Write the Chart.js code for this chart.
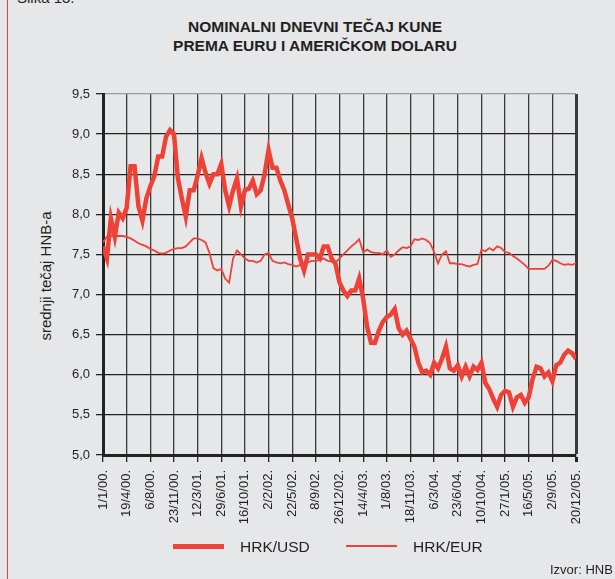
<!DOCTYPE html>
<html>
<head>
<meta charset="utf-8">
<script src="https://cdn.jsdelivr.net/npm/chart.js@4/dist/chart.umd.min.js"></script>
<style>
  body { margin: 0; background: #e6e7e9; font-family: "Liberation Sans", Arial, sans-serif; color: #231f20; }
  #wrap { position: relative; width: 615px; height: 579px; overflow: hidden; }
  #chart { position: absolute; left: 0; top: 0; }
  .abs { position: absolute; white-space: nowrap; }
  #frame { position: absolute; left: 7px; top: 0; width: 1px; height: 579px; background: #e8463d; }
  #title { left: 0; width: 630px; top: 18px; text-align: center; font-weight: bold; font-size: 15.5px; line-height: 18.5px; }
  #ylabel { left: 45px; top: 276px; }
  #ylabel span { display: block; transform: translate(-50%, -50%) rotate(-90deg); font-size: 15px; }
  .swatch { position: absolute; background: #ef4136; }
  .legtxt { font-size: 15.5px; top: 538px; }
</style>
</head>
<body>
<div id="wrap">
  <div id="frame"></div>
  <div class="abs" style="left:17px; top:-11px; font-size:15px;">Slika 13.</div>
  <div class="abs" id="title">NOMINALNI DNEVNI TEČAJ KUNE<br>PREMA EURU I AMERIČKOM DOLARU</div>
  <div class="abs" id="ylabel"><span>srednji tečaj HNB-a</span></div>
  <canvas id="chart" width="615" height="579"></canvas>
  <div class="swatch" style="left:173px; top:544px; width:51px; height:5px;"></div>
  <div class="abs legtxt" style="left:240px;">HRK/USD</div>
  <div class="swatch" style="left:346px; top:545px; width:51px; height:2px;"></div>
  <div class="abs legtxt" style="left:413px;">HRK/EUR</div>
  <div class="abs" style="left:550px; top:562px; font-size:13px;">Izvor: HNB</div>
</div>
<script>
// tick labels on the x axis (one per grid line)
const tickLabels = [
  "1/1/00.", "19/4/00.", "6/8/00.", "23/11/00.", "12/3/01.", "29/6/01.", "16/10/01.",
  "2/2/02.", "22/5/02.", "8/9/02.", "26/12/02.", "14/4/03.", "1/8/03.", "18/11/03.",
  "6/3/04.", "23/6/04.", "10/10/04.", "27/1/05.", "16/5/05.", "2/9/05.", "20/12/05."
];
// values are read every 1/6 of the tick interval
const STEPS = 6;

const hrkUsd = [
  7.60, 7.45, 7.95, 7.72, 8.02, 7.95, 8.08, 8.60, 8.60, 8.10,
  7.92, 8.20, 8.35, 8.47, 8.72, 8.72, 8.97, 9.05, 9.00, 8.45,
  8.20, 7.97, 8.30, 8.30, 8.48, 8.70, 8.52, 8.38, 8.50, 8.50,
  8.63, 8.30, 8.10, 8.30, 8.45, 8.10, 8.30, 8.32, 8.42, 8.25,
  8.30, 8.50, 8.80, 8.58, 8.58, 8.42, 8.30, 8.12, 7.95, 7.70,
  7.45, 7.30, 7.50, 7.50, 7.50, 7.45, 7.60, 7.60, 7.45, 7.38,
  7.15, 7.05, 6.98, 7.05, 7.05, 7.20, 6.95, 6.60, 6.40, 6.40,
  6.55, 6.66, 6.72, 6.75, 6.82, 6.58, 6.50, 6.55, 6.45, 6.35,
  6.15, 6.03, 6.05, 6.00, 6.15, 6.08, 6.20, 6.35, 6.08, 6.05,
  6.12, 5.98, 6.10, 5.98, 6.10, 6.06, 6.15, 5.90, 5.82, 5.70,
  5.60, 5.75, 5.80, 5.78, 5.60, 5.72, 5.75, 5.65, 5.72, 5.95,
  6.10, 6.08, 5.98, 6.03, 5.92, 6.12, 6.15, 6.25, 6.30, 6.27,
  6.20
];

const hrkEur = [
  7.65, 7.72, 7.73, 7.73, 7.73, 7.73, 7.72, 7.70, 7.67, 7.64,
  7.62, 7.60, 7.57, 7.55, 7.52, 7.51, 7.52, 7.55, 7.57, 7.58,
  7.58, 7.60, 7.65, 7.70, 7.70, 7.68, 7.65, 7.52, 7.33, 7.30,
  7.32, 7.20, 7.15, 7.45, 7.55, 7.50, 7.45, 7.42, 7.42, 7.40,
  7.42, 7.50, 7.52, 7.42, 7.40, 7.39, 7.40, 7.38, 7.37, 7.35,
  7.37, 7.36, 7.40, 7.42, 7.42, 7.43, 7.45, 7.42, 7.41, 7.40,
  7.45, 7.50, 7.55, 7.60, 7.64, 7.69, 7.53, 7.56, 7.53, 7.52,
  7.52, 7.50, 7.55, 7.47, 7.50, 7.55, 7.59, 7.58, 7.60, 7.69,
  7.68, 7.70, 7.68, 7.64, 7.53, 7.39, 7.50, 7.54, 7.39, 7.39,
  7.38, 7.38, 7.36, 7.35, 7.37, 7.38, 7.56, 7.54, 7.58, 7.55,
  7.60, 7.58, 7.53, 7.52, 7.48, 7.45, 7.41, 7.37, 7.32, 7.32,
  7.32, 7.32, 7.32, 7.36, 7.43, 7.42, 7.39, 7.37, 7.38, 7.37,
  7.39
];

const red = "#ef4136";
const toPoints = arr => arr.map((v, i) => ({ x: i / STEPS, y: v }));

const ctx = document.getElementById("chart").getContext("2d");
new Chart(ctx, {
  type: "line",
  data: {
    datasets: [
      { label: "HRK/USD", data: toPoints(hrkUsd), borderColor: red, borderWidth: 4.5, pointRadius: 0, tension: 0 },
      { label: "HRK/EUR", data: toPoints(hrkEur), borderColor: red, borderWidth: 1.8, pointRadius: 0, tension: 0 },
    ],
  },
  options: {
    responsive: false,
    animation: false,
    layout: { padding: { top: 94, right: 39, left: 0, bottom: 0 } },
    plugins: { legend: { display: false }, tooltip: { enabled: false } },
    scales: {
      x: {
        type: "linear",
        min: 0,
        max: 20,
        afterFit: (scale) => { scale.height = 124; },
        ticks: {
          stepSize: 1,
          autoSkip: false,
          minRotation: 90,
          maxRotation: 90,
          padding: 8,
          color: "#231f20",
          font: { family: "'Liberation Sans', Arial, sans-serif", size: 13 },
          callback: (v) => tickLabels[v] ?? "",
        },
        grid: {
          color: "#3a3a3a",
          lineWidth: (c) => (c.tick && c.tick.value === 20 ? 3 : 1.3),
          tickLength: 7,
          tickColor: "#222",
        },
        border: { color: "#222", width: 3 },
      },
      y: {
        min: 5,
        max: 9.5,
        afterFit: (scale) => { scale.width = 103; },
        ticks: {
          stepSize: 0.5,
          padding: 6,
          color: "#231f20",
          font: { family: "'Liberation Sans', Arial, sans-serif", size: 13 },
          callback: (v) => v.toFixed(1).replace(".", ","),
        },
        grid: {
          color: (c) => (c.tick && c.tick.value === 9.5 ? "#9a9a9a" : "#222"),
          lineWidth: 1.3,
          tickLength: 7,
          tickColor: "#222",
        },
        border: { color: "#222", width: 3 },
      },
    },
  },
});
</script>
</body>
</html>
